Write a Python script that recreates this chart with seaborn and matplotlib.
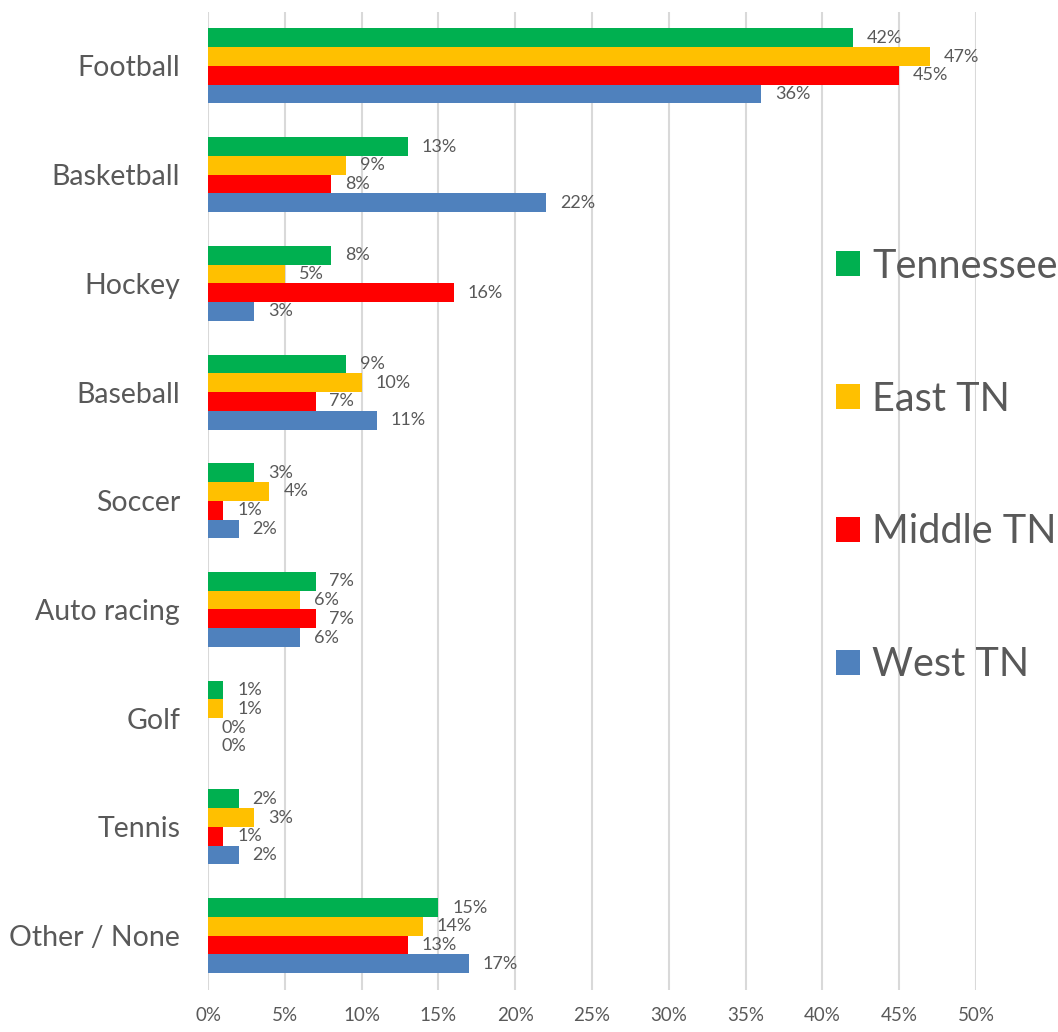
import matplotlib
matplotlib.use("Agg")
import matplotlib.pyplot as plt
import seaborn as sns
import pandas as pd

sports = ['Football', 'Basketball', 'Hockey', 'Baseball', 'Soccer',
          'Auto racing', 'Golf', 'Tennis', 'Other / None']
regions = ['Tennessee', 'East TN', 'Middle TN', 'West TN']

tennessee = [42, 13, 8, 9, 3, 7, 1, 2, 15]
east_tn = [47, 9, 5, 10, 4, 6, 1, 3, 14]
middle_tn = [45, 8, 16, 7, 1, 7, 0, 1, 13]
west_tn = [36, 22, 3, 11, 2, 6, 0, 2, 17]

colors = ['#00B050', '#FFC000', '#FF0000', '#4F81BD']
txt = '#595959'

rows = []
for reg, vals in zip(regions, [tennessee, east_tn, middle_tn, west_tn]):
    for s, v in zip(sports, vals):
        rows.append({'sport': s, 'region': reg, 'pct': v})
df = pd.DataFrame(rows)

sns.set_theme(style='white')
plt.rcParams['font.family'] = ['Lato', 'DejaVu Sans']

fig = plt.figure(figsize=(10.58, 10.32), dpi=100)
ax = fig.add_axes([0.1966, 0.0407, 0.9225 - 0.1966, 0.9888 - 0.0407])

sns.barplot(data=df, y='sport', x='pct', hue='region', order=sports,
            hue_order=regions, palette=colors, width=0.69, linewidth=0,
            saturation=1, orient='h', ax=ax)

for cont in ax.containers:
    ax.bar_label(cont, labels=[f'{v:.0f}%' for v in cont.datavalues],
                 padding=10, fontsize=13, color=txt, clip_on=False)

ax.set_xlim(0, 50)
ax.set_xticks(range(0, 51, 5))
ax.set_xticklabels([f'{t}%' for t in range(0, 51, 5)])
ax.grid(axis='x', color='#D9D9D9', linewidth=1.5)
ax.set_axisbelow(True)
for sp in ax.spines.values():
    sp.set_visible(False)
ax.tick_params(axis='y', length=0, pad=20, labelsize=20.5, labelcolor=txt)
ax.tick_params(axis='x', length=0, pad=12, labelsize=13.5, labelcolor=txt)
ax.set_xlabel('')
ax.set_ylabel('')

ax.legend(title=None, frameon=False, loc='center left',
          bbox_to_anchor=(0.79, 0.549), bbox_transform=fig.transFigure,
          fontsize=28.5, labelcolor=txt, handlelength=0.6, handleheight=0.6,
          handletextpad=0.32, labelspacing=2.42, borderpad=0, borderaxespad=0)

fig.savefig('out.png', dpi=100)
